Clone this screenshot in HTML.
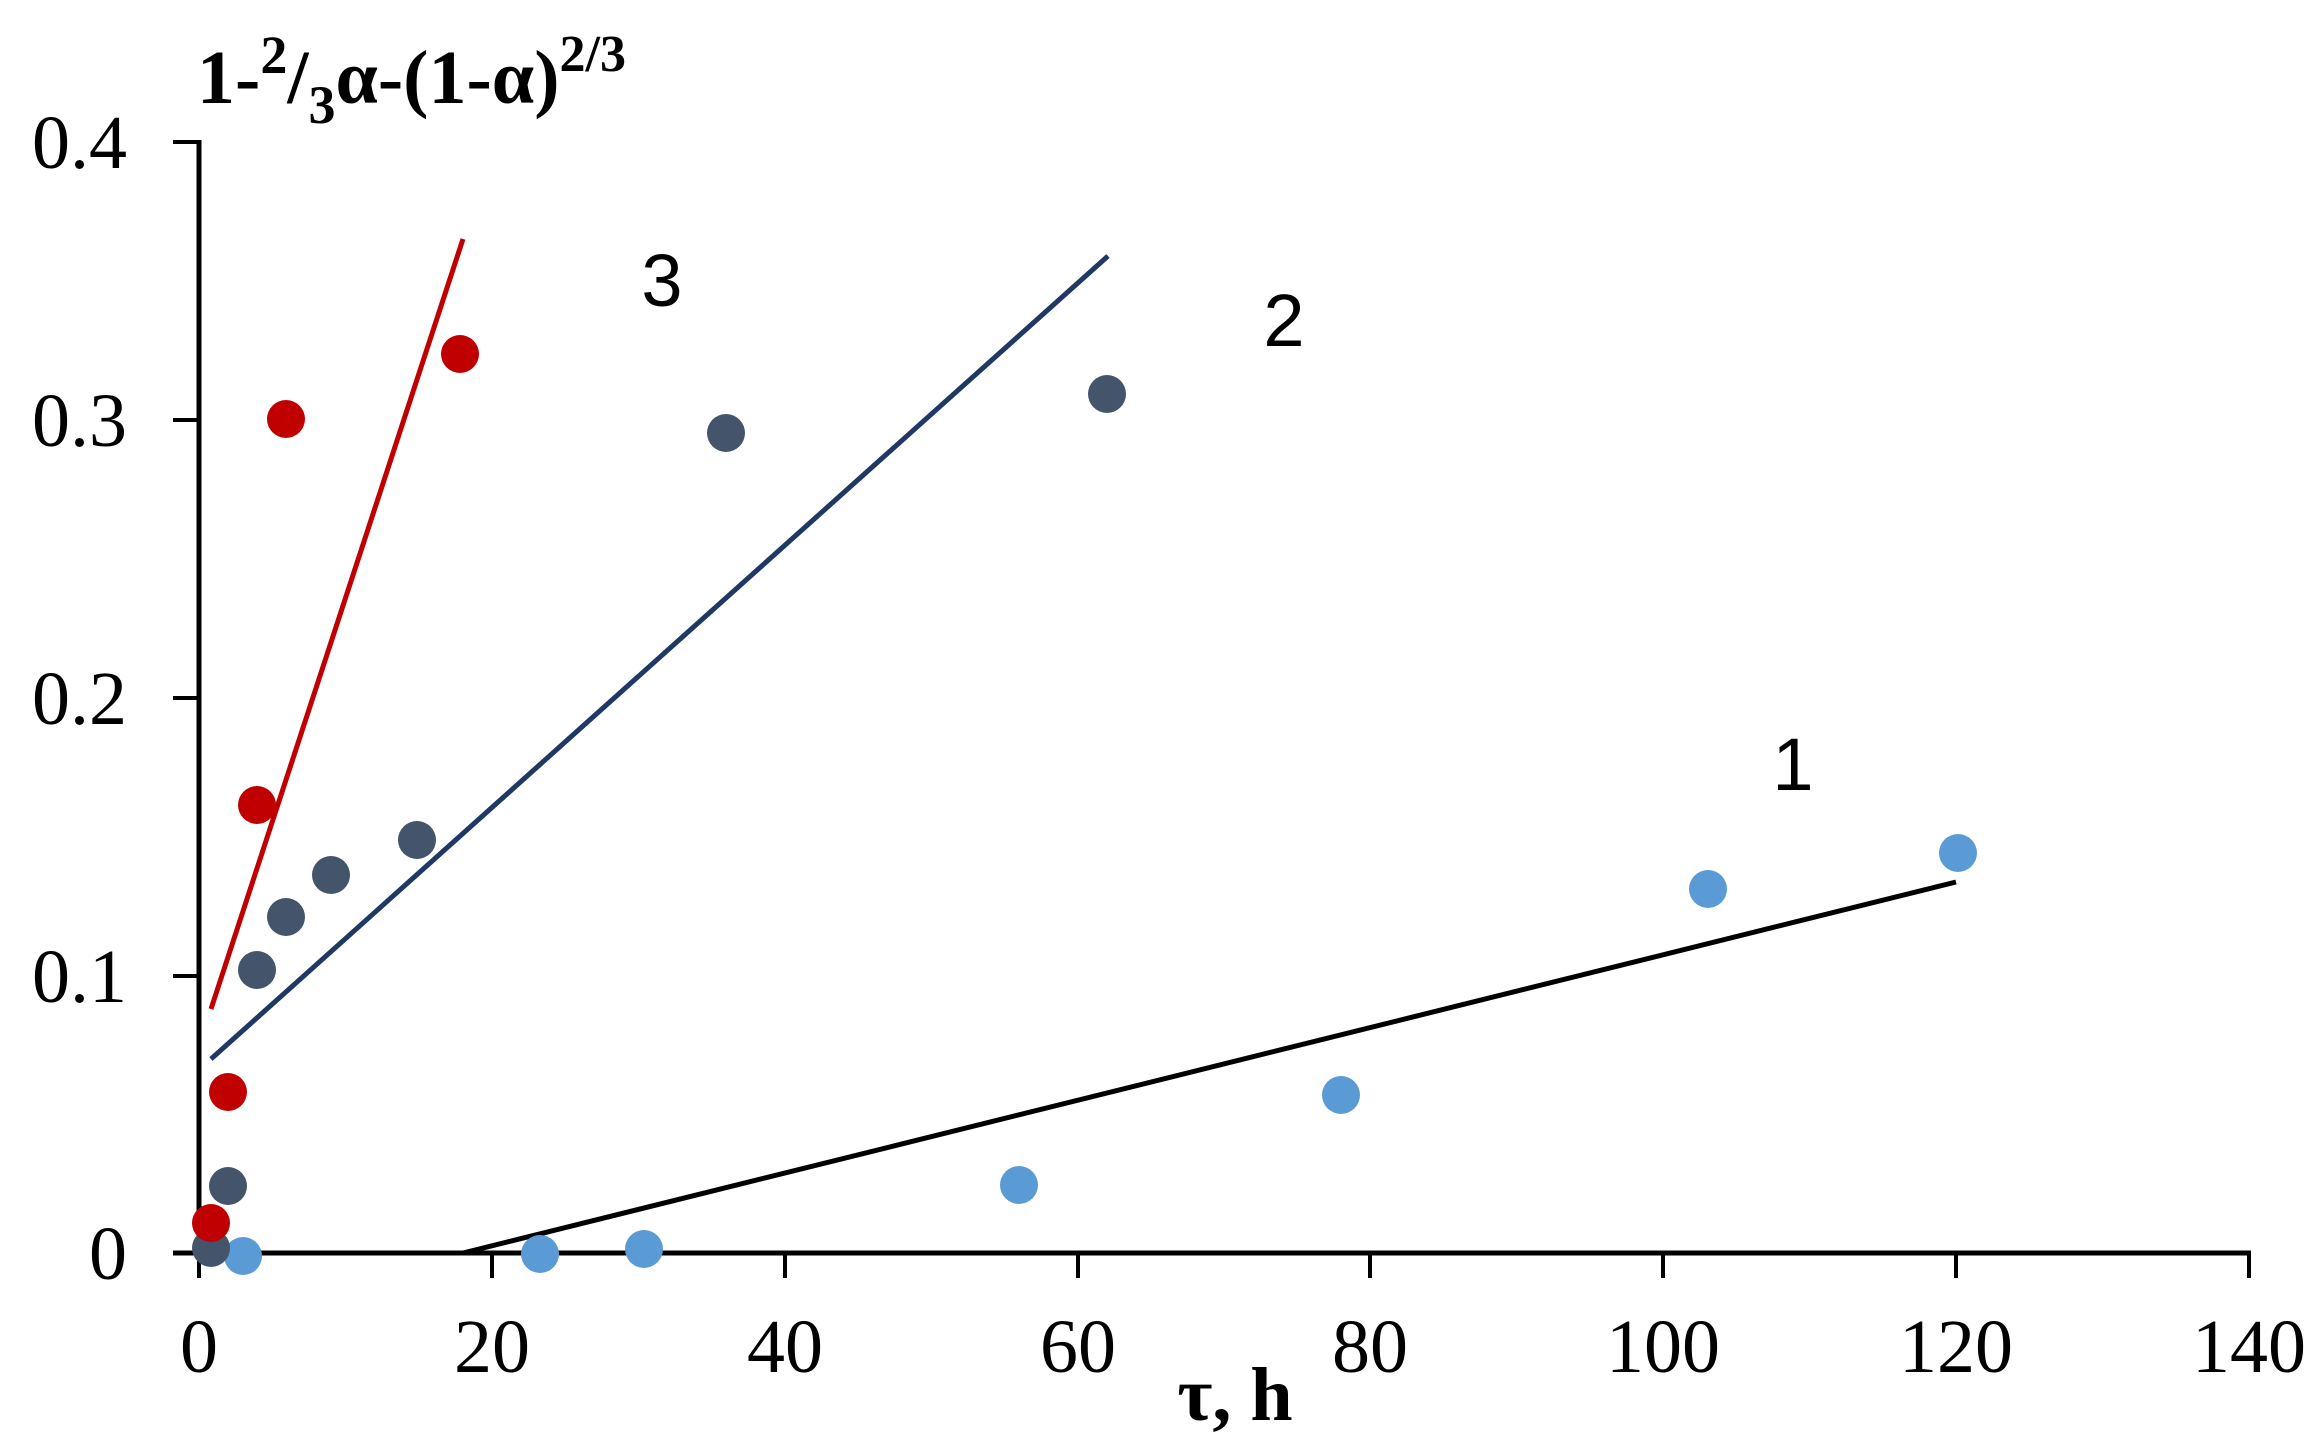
<!DOCTYPE html>
<html><head><meta charset="utf-8"><style>
html,body{margin:0;padding:0;background:#fff;}
svg{display:block;}
text{font-family:"Liberation Serif",serif;}
</style></head><body>
<svg width="2322" height="1452" viewBox="0 0 2322 1452" xmlns="http://www.w3.org/2000/svg">
<rect width="2322" height="1452" fill="#fff"/>
<line x1="199" y1="140" x2="199" y2="1254" stroke="#000" stroke-width="5"/>
<line x1="173" y1="1253" x2="2251" y2="1253" stroke="#000" stroke-width="5"/>
<g stroke="#000" stroke-width="4">
<line x1="173" y1="142" x2="199" y2="142"/>
<line x1="173" y1="420" x2="199" y2="420"/>
<line x1="173" y1="698" x2="199" y2="698"/>
<line x1="173" y1="976" x2="199" y2="976"/>
<line x1="199" y1="1253" x2="199" y2="1278"/>
<line x1="492" y1="1253" x2="492" y2="1278"/>
<line x1="785" y1="1253" x2="785" y2="1278"/>
<line x1="1078" y1="1253" x2="1078" y2="1278"/>
<line x1="1370" y1="1253" x2="1370" y2="1278"/>
<line x1="1663" y1="1253" x2="1663" y2="1278"/>
<line x1="1956" y1="1253" x2="1956" y2="1278"/>
<line x1="2249" y1="1253" x2="2249" y2="1278"/>
</g>
<g font-size="76" text-anchor="end" fill="#000">
<text x="127" y="168">0.4</text>
<text x="127" y="446">0.3</text>
<text x="127" y="724">0.2</text>
<text x="127" y="1002">0.1</text>
<text x="127" y="1279">0</text>
</g>
<g font-size="76" text-anchor="middle" fill="#000">
<text x="199" y="1372">0</text>
<text x="492" y="1372">20</text>
<text x="785" y="1372">40</text>
<text x="1078" y="1372">60</text>
<text x="1370" y="1372">80</text>
<text x="1663" y="1372">100</text>
<text x="1956" y="1372">120</text>
<text x="2249" y="1372">140</text>
</g>
<text x="1235" y="1420" font-size="76" font-weight="bold" text-anchor="middle">τ, h</text>
<text x="197" y="103" font-size="76" font-weight="bold">1-<tspan font-size="54" dy="-30">2</tspan><tspan dy="30">/</tspan><tspan font-size="54" dy="20">3</tspan><tspan dy="-20">α-(1-α)</tspan><tspan font-size="52" dy="-32">2/3</tspan></text>
<g font-size="74" fill="#000" text-anchor="middle">
<text x="662" y="306" style="font-family:'Liberation Sans',sans-serif">3</text>
<text x="1284" y="346" style="font-family:'Liberation Sans',sans-serif">2</text>
<text x="1793" y="790" style="font-family:'Liberation Sans',sans-serif">1</text>
</g>
<line x1="211" y1="1009" x2="463" y2="239" stroke="#c00000" stroke-width="5"/>
<line x1="211" y1="1059" x2="1108" y2="256" stroke="#1f3864" stroke-width="5"/>
<line x1="463" y1="1253" x2="1956" y2="882" stroke="#000" stroke-width="5"/>
<g fill="#5b9bd5">
<circle cx="243" cy="1256" r="19"/>
<circle cx="540" cy="1254" r="19"/>
<circle cx="644" cy="1249" r="19"/>
<circle cx="1019" cy="1185" r="19"/>
<circle cx="1341" cy="1095" r="19"/>
<circle cx="1708" cy="889" r="19"/>
<circle cx="1958" cy="853" r="19"/>
</g>
<g fill="#44546a">
<circle cx="211" cy="1248" r="19"/>
<circle cx="228" cy="1186" r="19"/>
<circle cx="257" cy="970" r="19"/>
<circle cx="286" cy="917" r="19"/>
<circle cx="331" cy="875" r="19"/>
<circle cx="417" cy="840" r="19"/>
<circle cx="726" cy="433" r="19"/>
<circle cx="1107" cy="394" r="19"/>
</g>
<g fill="#c00000">
<circle cx="211" cy="1223" r="19"/>
<circle cx="228" cy="1092" r="19"/>
<circle cx="257" cy="805" r="19"/>
<circle cx="286" cy="419" r="19"/>
<circle cx="460" cy="354" r="19"/>
</g>
</svg>
</body></html>
